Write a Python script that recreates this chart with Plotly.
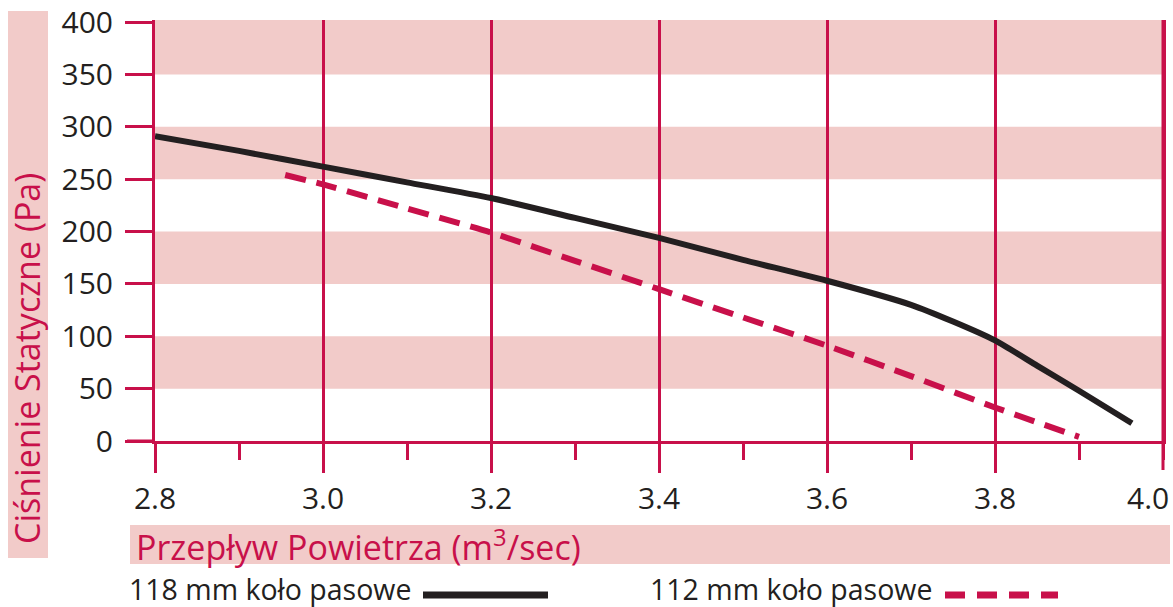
import plotly.graph_objects as go

# ---- data ----
flow_118 = [2.80, 2.90, 3.00, 3.10, 3.20, 3.30, 3.40, 3.50, 3.60, 3.70, 3.75, 3.80, 3.85, 3.90, 3.963]
press_118 = [291, 277, 262, 247, 232, 213, 194, 173, 153, 130, 114, 96, 72, 48, 17]

flow_112 = [2.955, 3.00, 3.10, 3.20, 3.30, 3.40, 3.50, 3.60, 3.70, 3.80, 3.90]
press_112 = [254, 245, 222, 199, 172, 145, 118, 91, 62, 32, 4]

x_ticks = [2.8, 3.0, 3.2, 3.4, 3.6, 3.8, 4.0]
x_ticktext = ["2.8", "3.0", "3.2", "3.4", "3.6", "3.8", "4.0"]
y_ticks = [0, 50, 100, 150, 200, 250, 300, 350, 400]

x_title = "Przepływ Powietrza (m<sup>3</sup>/sec)"
y_title = "Ciśnienie Statyczne (Pa)"
legend_labels = ["118 mm koło pasowe", "112 mm koło pasowe"]

# ---- style ----
CRIMSON = "#C8104A"
PINK = "#F2CBC9"
BLACK = "#231F20"
FONT = "Open Sans"

W, H = 1173, 607
L, R, T, B = 155, 1163, 20, 441


def px_x(p):
    return (p - L) / (R - L)


def px_y(p):
    return (B - p) / (B - T)


fig = go.Figure()
fig.add_trace(go.Scatter(x=flow_118, y=press_118, mode="lines",
                         line=dict(color=BLACK, width=6, shape="spline", smoothing=0.6),
                         showlegend=False, hoverinfo="skip"))
fig.add_trace(go.Scatter(x=flow_112, y=press_112, mode="lines",
                         line=dict(color=CRIMSON, width=6, dash="21px,11px", shape="spline", smoothing=0.6),
                         showlegend=False, hoverinfo="skip"))

shapes = []
# horizontal pink bands (every other 50 Pa interval)
for lo in y_ticks[1::2]:
    shapes.append(dict(type="rect", xref="x", yref="y", x0=x_ticks[0], x1=x_ticks[-1],
                       y0=lo, y1=lo + 50 if lo + 50 < 400 else 402,
                       fillcolor=PINK, line=dict(width=0), layer="below"))
# x axis line extension to the left
shapes.append(dict(type="line", xref="paper", yref="paper", x0=px_x(127), x1=0, y0=0, y1=0,
                   line=dict(color=CRIMSON, width=3)))
# right border line at 4.0 (extends down like a major tick)
shapes.append(dict(type="line", xref="paper", yref="paper", x0=1, x1=1, y0=px_y(470), y1=1,
                   line=dict(color=CRIMSON, width=3)))
# y title band
shapes.append(dict(type="rect", xref="paper", yref="paper", x0=px_x(8), x1=px_x(48),
                   y0=px_y(558), y1=px_y(11), fillcolor=PINK, line=dict(width=0), layer="below"))
# x title band
shapes.append(dict(type="rect", xref="paper", yref="paper", x0=px_x(130), x1=px_x(1170),
                   y0=px_y(564), y1=px_y(525), fillcolor=PINK, line=dict(width=0), layer="below"))
# legend line samples
shapes.append(dict(type="line", xref="paper", yref="paper", x0=px_x(423), x1=px_x(548),
                   y0=px_y(595), y1=px_y(595), line=dict(color=BLACK, width=7)))
shapes.append(dict(type="line", xref="paper", yref="paper", x0=px_x(945), x1=px_x(1058),
                   y0=px_y(595), y1=px_y(595), line=dict(color=CRIMSON, width=7, dash="20px,12px")))

annotations = [
    dict(text=x_title, xref="paper", yref="paper", x=px_x(134), y=px_y(545),
         xanchor="left", yanchor="middle", showarrow=False,
         font=dict(family=FONT, size=34, color=CRIMSON)),
    dict(text=y_title, xref="paper", yref="paper", x=px_x(27), y=px_y(359),
         xanchor="center", yanchor="middle", showarrow=False, textangle=-90,
         font=dict(family=FONT, size=34, color=CRIMSON)),
    dict(text=legend_labels[0], xref="paper", yref="paper", x=px_x(127), y=px_y(589),
         xanchor="left", yanchor="middle", showarrow=False,
         font=dict(family=FONT, size=28.5, color=BLACK)),
    dict(text=legend_labels[1], xref="paper", yref="paper", x=px_x(648), y=px_y(589),
         xanchor="left", yanchor="middle", showarrow=False,
         font=dict(family=FONT, size=28.5, color=BLACK)),
    # last x tick label, kept inside the page like in the original
    dict(text=x_ticktext[-1], xref="x", yref="paper", x=x_ticks[-1], y=px_y(497),
         xanchor="right", yanchor="middle", xshift=8, showarrow=False,
         font=dict(family=FONT, size=30, color=BLACK)),
]

fig.update_layout(
    width=W, height=H,
    margin=dict(l=L, r=W - R, t=T, b=H - B, pad=0, autoexpand=False),
    paper_bgcolor="white", plot_bgcolor="white",
    shapes=shapes, annotations=annotations,
    font=dict(family=FONT, color=BLACK),
    xaxis=dict(range=[2.8, 4.0], tickvals=x_ticks[:-1], ticktext=x_ticktext[:-1],
               ticks="outside", ticklen=29, tickwidth=3, tickcolor=CRIMSON,
               showgrid=True, gridcolor=CRIMSON, gridwidth=3, zeroline=False,
               showline=True, linecolor=CRIMSON, linewidth=3, automargin=False,
               tickfont=dict(family=FONT, size=30, color=BLACK),
               minor=dict(dtick=0.1, tick0=2.8, ticks="outside", ticklen=16, tickwidth=3,
                          tickcolor=CRIMSON, showgrid=False),
               fixedrange=True),
    yaxis=dict(range=[0, 402], tickvals=y_ticks,
               ticks="outside", ticklen=27, tickwidth=3, tickcolor=CRIMSON,
               ticklabelstandoff=6,
               showgrid=False, zeroline=False, automargin=False,
               showline=True, mirror=True, linecolor=CRIMSON, linewidth=3,
               tickfont=dict(family=FONT, size=30, color=BLACK),
               fixedrange=True),
)

fig.write_html("out.html", config={"displayModeBar": False},
               post_script="document.body.style.margin='0';document.body.style.overflow='hidden';")
